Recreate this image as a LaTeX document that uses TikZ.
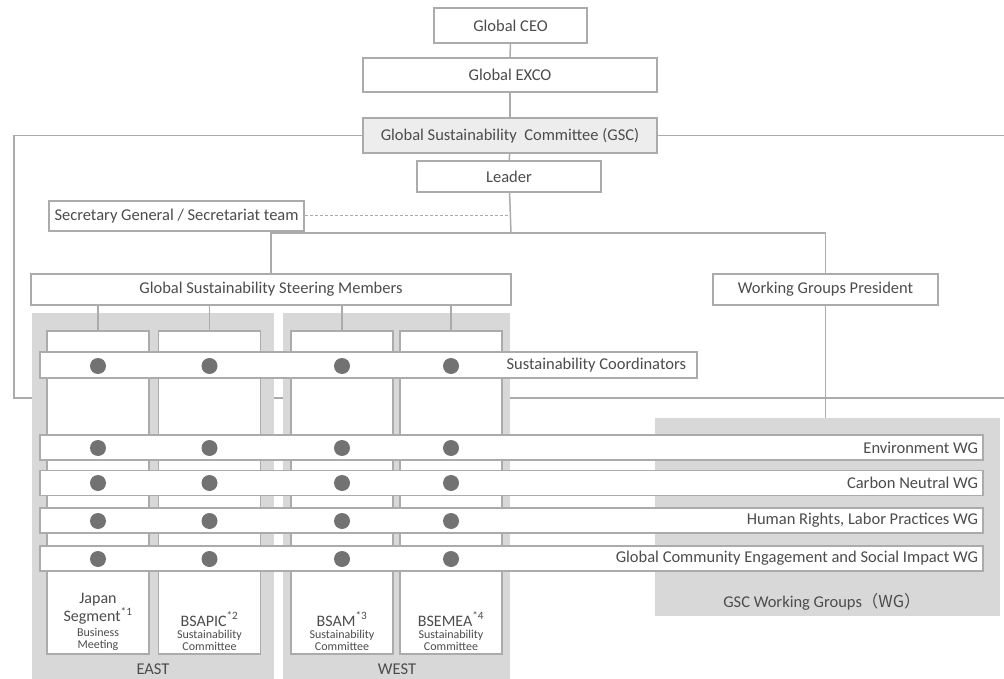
\documentclass[tikz,border=0pt]{standalone}
\usepackage{fontspec}
\setmainfont{Carlito}
\newfontfamily\cjk{Noto Sans CJK JP}
\usetikzlibrary{positioning}
\definecolor{txt}{HTML}{4C4C4C}
\definecolor{ln}{HTML}{ABABAB}
\definecolor{pnl}{HTML}{D8D8D8}
\definecolor{dotc}{HTML}{727272}
\begin{document}
\begin{tikzpicture}[x=1pt, y=-1pt, font=\fontsize{16.5}{18}\selectfont, text=txt,
        main/.style = {draw=ln, line width=1.5pt, fill=white, inner sep=0pt, minimum height=31pt},
        panel/.style = {fill=pnl, inner sep=0pt},
        col/.style = {draw=ln, line width=1.5pt, fill=white, inner sep=0pt, minimum width=102pt, minimum height=323pt},
        band/.style = {draw=ln, line width=1.2pt, fill=white, inner sep=0pt, minimum height=25pt},
        conn/.style = {draw=ln, line width=1.5pt},
        colname/.style = {inner sep=0pt, align=center, font=\fontsize{16}{15}\selectfont},
        colsub/.style = {inner sep=0pt, align=center, font=\fontsize{12}{11.5}\selectfont}]
        \clip (0,0) rectangle (1004,679);
        % top of the chart
        \node[main, minimum width=153pt, minimum height=35pt] (ceo) at (510.5,25.5) {Global CEO};
        \node[main, minimum width=294pt, minimum height=34pt] (exco) at (510,75) {Global EXCO};
        \node[main, minimum width=294pt, minimum height=35pt, fill=gray!14] (gsc) at (510,135.5) {Global Sustainability\ \ Committee (GSC)};
        \node[main, minimum width=184pt] (lead) at (509,176.5) {Leader};
        \node[main, minimum width=255pt, minimum height=30pt] (sec) at (176.5,216) {Secretary General / Secretariat team};
        \node[main, minimum width=480pt] (ssm) at (271,289.5) {Global Sustainability Steering Members};
        \node[main, minimum width=225pt] (wgp) at (825.5,289.5) {Working Groups President};
        \coordinate (hub) at (511,233);
        \coordinate (lb) at (14,398);
        \coordinate (rb) at (1030,398);
        \draw[conn] (ceo) -- (exco);
        \draw[conn] (exco) -- (gsc);
        \draw[conn] (gsc) -- (lead);
        \draw[conn] (lead) -- (hub);
        \draw[ln, line width=1pt, densely dashed] (sec.east) -- (sec.east -| hub);
        \draw[conn] (ssm.north) |- (hub) -| (wgp.north);
        \draw[conn] (gsc.west) -| (lb) -- (rb) |- (gsc.east);
        % panels
        \node[panel, minimum width=242pt, minimum height=380pt] (east) at (153,503) {};
        \node[panel, minimum width=227pt, minimum height=380pt] (west) at (396.5,503) {};
        \node[panel, minimum width=345pt, minimum height=198pt] (wgbox) at (827.5,517) {};
        \draw[conn] (wgp.south) -- (wgp.south |- wgbox.north);
        \node (et) at (153,669) {EAST};
        \node (wt) at (397,669) {WEST};
        \node (wgt) at (822,602) {GSC Working Groups\cjk{（}WG\cjk{）}};
        % member columns
        \node[col] (jp) at (98,492.5) {};
        \node[col] (bsapic) at (209.5,492.5) {};
        \node[col] (bsam) at (342,492.5) {};
        \node[col] (bsemea) at (451,492.5) {};
        \draw[conn] (jp.north) -- (jp.north |- ssm.south);
        \draw[conn] (bsapic.north) -- (bsapic.north |- ssm.south);
        \draw[conn] (bsam.north) -- (bsam.north |- ssm.south);
        \draw[conn] (bsemea.north) -- (bsemea.north |- ssm.south);
        \node[colsub, above=4pt of jp.south] (jps) {Business\\Meeting};
        \node[colname, above=4pt of jps] (jpn) {Japan\\Segment\textsuperscript{*1}};
        \node[colsub, above=4pt of bsapic.south] (bsapics) {Sustainability\\Committee};
        \node[colname, above=4pt of bsapics] (bsapicn) {BSAPIC\textsuperscript{*2}};
        \node[colsub, above=4pt of bsam.south] (bsams) {Sustainability\\Committee};
        \node[colname, above=4pt of bsams] (bsamn) {BSAM\textsuperscript{*3}};
        \node[colsub, above=4pt of bsemea.south] (bsemeas) {Sustainability\\Committee};
        \node[colname, above=4pt of bsemeas] (bsemean) {BSEMEA\textsuperscript{*4}};
        % bands across the columns
        \node[band, minimum width=657pt, minimum height=26pt] (sc) at (368.5,365) {};
        \node[band, minimum width=943pt] (env) at (511.5,447.5) {};
        \node[band, minimum width=943pt] (cn) at (511.5,483) {};
        \node[band, minimum width=943pt] (hr) at (511.5,520.5) {};
        \node[band, minimum width=943pt] (gc) at (511.5,558.5) {};
        \node[left=8pt of sc.east] (sct) {Sustainability Coordinators};
        \node[left=2pt of env.east] (envt) {Environment WG};
        \node[left=2pt of cn.east] (cnt) {Carbon Neutral WG};
        \node[left=2pt of hr.east] (hrt) {Human Rights, Labor Practices WG};
        \node[left=2pt of gc.east] (gct) {Global Community Engagement and Social Impact WG};
        \foreach \x in {98,209.5,342,451}
            \foreach \y in {366,448,483,521,559}
                \fill[dotc] (\x,\y) circle (8pt);
\end{tikzpicture}
\end{document}
